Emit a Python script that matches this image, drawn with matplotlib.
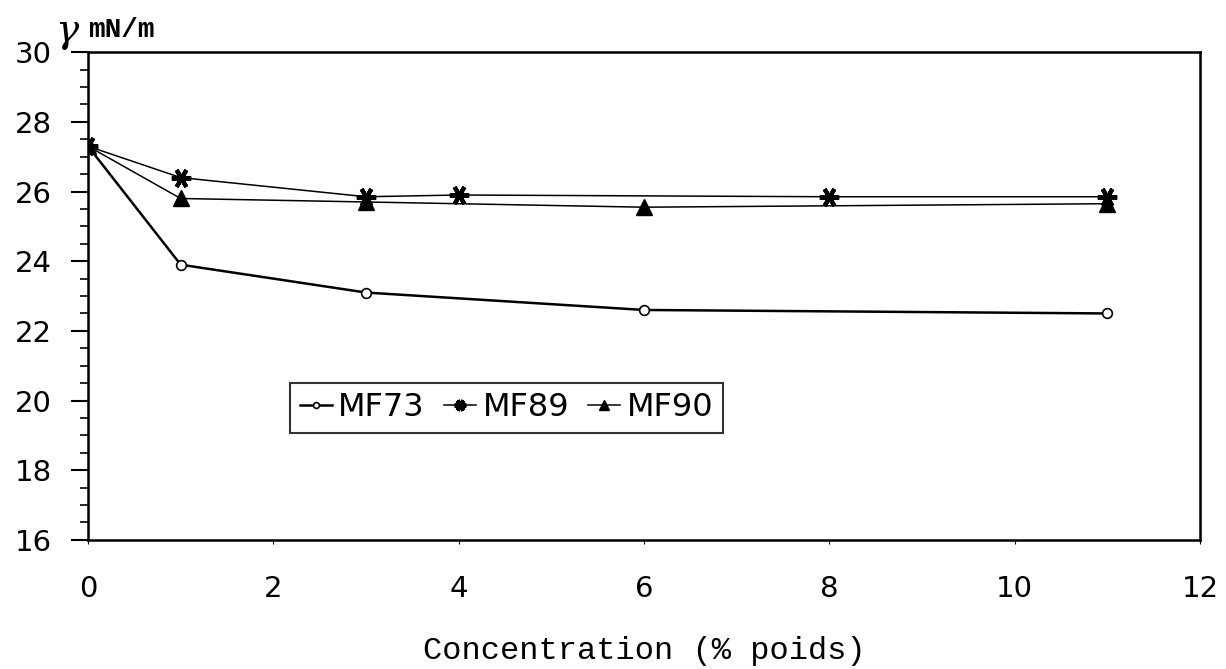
import matplotlib
matplotlib.use("Agg")
import matplotlib.pyplot as plt
from matplotlib.ticker import MultipleLocator

conc_73 = [0, 1, 3, 6, 11]
mf73 = [27.3, 23.9, 23.1, 22.6, 22.5]
conc_89 = [0, 1, 3, 4, 8, 11]
mf89 = [27.3, 26.4, 25.85, 25.9, 25.85, 25.85]
conc_90 = [0, 1, 3, 6, 11]
mf90 = [27.3, 25.8, 25.7, 25.55, 25.65]
xticks = [0, 2, 4, 6, 8, 10, 12]
yticks = [16, 18, 20, 22, 24, 26, 28, 30]

plt.rcParams['font.family'] = ['DejaVu Sans']
fig = plt.figure(figsize=(12.26, 6.69), dpi=100)
ax = fig.add_axes([0.0718, 0.193, 0.907, 0.729])

ax.plot(conc_73, mf73, color='black', lw=1.8, marker='o', ms=7,
        mfc='white', mec='black', mew=1.2, label='MF73')
ax.plot(conc_89, mf89, color='black', lw=1.1, marker=(6, 2, 90), ms=14,
        mec='black', mew=3, label='MF89')
ax.plot(conc_90, mf90, color='black', lw=1.1, marker='^', ms=11,
        mfc='black', mec='black', label='MF90')

ax.set_xlim(0, 12)
ax.set_ylim(16, 30)
ax.set_xticks(xticks)
ax.set_yticks(yticks)
ax.yaxis.set_minor_locator(MultipleLocator(0.5))
ax.tick_params(axis='y', which='major', direction='out', length=12, width=1.5,
               labelsize=21, pad=14)
ax.tick_params(axis='y', which='minor', direction='out', length=6, width=1.2)
ax.tick_params(axis='x', which='major', direction='out', length=3, width=0.8,
               labelsize=21, pad=22)
for s in ax.spines.values():
    s.set_linewidth(1.8)
    s.set_color('black')

ax.set_xlabel('Concentration (% poids)', fontsize=23,
              family=['Liberation Mono', 'DejaVu Sans Mono'], labelpad=24)
fig.text(0.045, 0.925, 'γ', fontsize=28, family=['DejaVu Serif'],
         style='italic', va='bottom', ha='left')
fig.text(0.072, 0.935, 'mN/m', fontsize=20, fontweight='bold',
         family=['Liberation Mono', 'DejaVu Sans Mono'], va='bottom', ha='left')

leg = ax.legend(loc='upper left', bbox_to_anchor=(0.182, 0.322), ncol=3,
                fontsize=23, frameon=True, fancybox=False, handlelength=1.0,
                handletextpad=0.2, columnspacing=0.6, borderpad=0.3,
                borderaxespad=0, markerscale=0.6)
leg.get_frame().set_edgecolor('black')
leg.get_frame().set_linewidth(1.5)

fig.savefig('out.png', dpi=100, facecolor='white')
